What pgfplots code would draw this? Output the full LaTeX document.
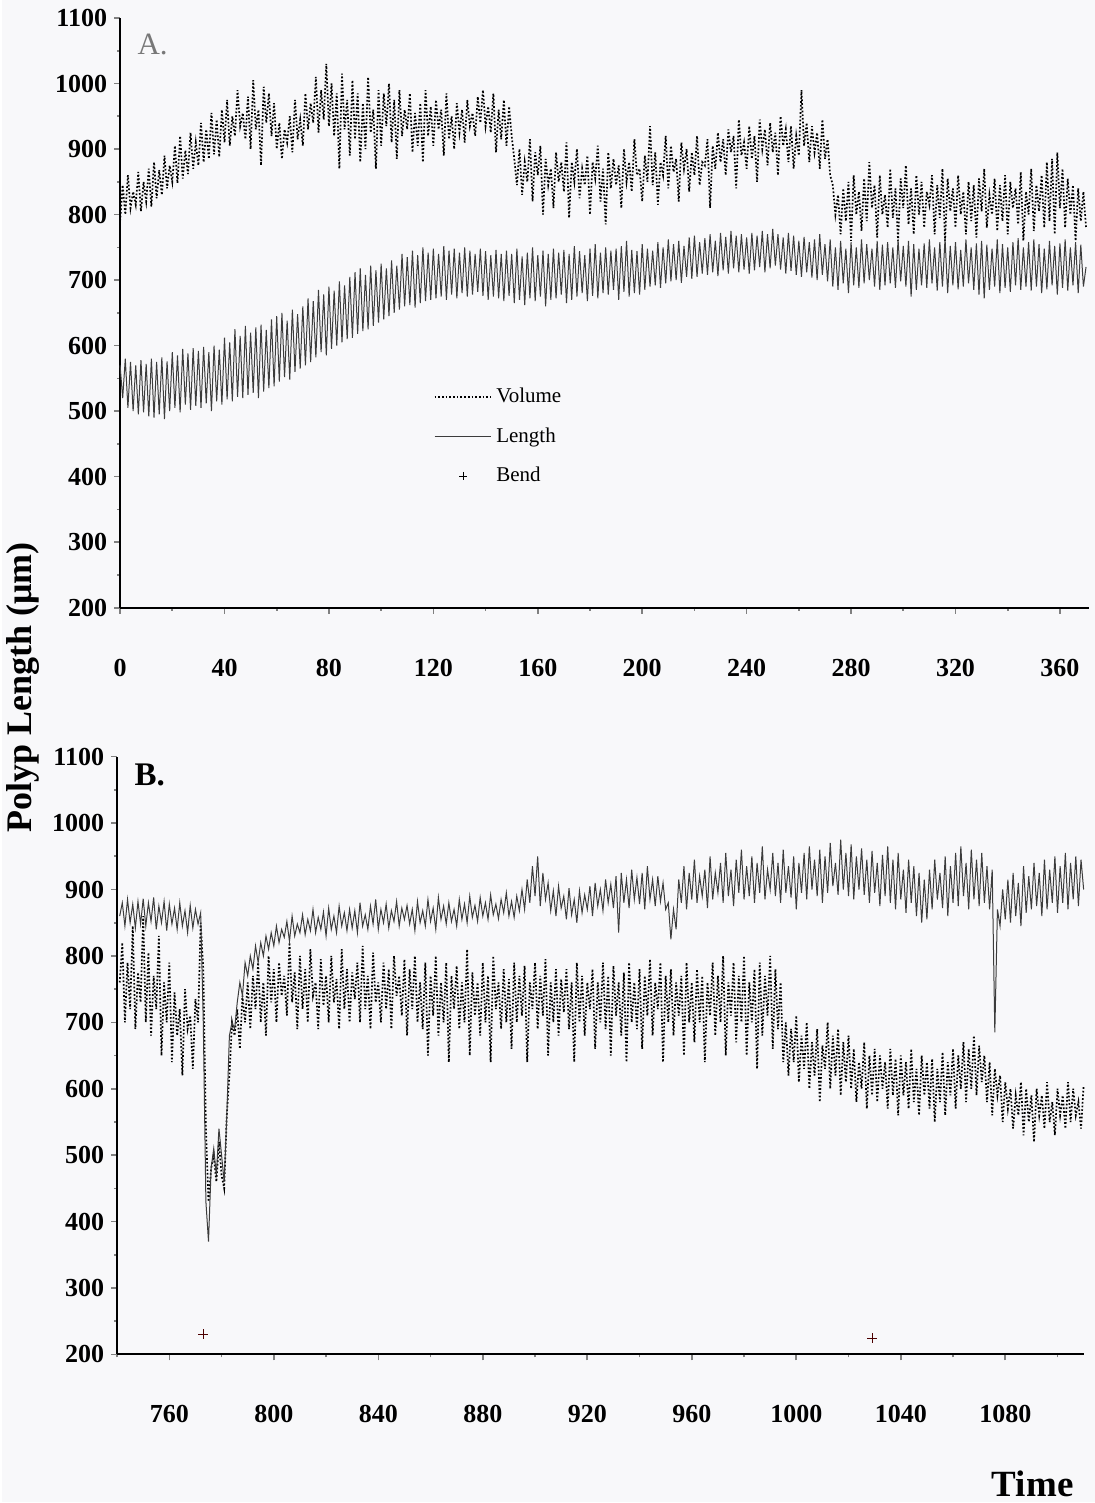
\documentclass[border=0pt]{standalone}
\usepackage{pgfplots}
\usepackage{pgfplotstable}
\pgfplotsset{compat=1.18}
\usepackage{fontspec}
\setmainfont{Liberation Serif}
\definecolor{bgcol}{RGB}{248,248,250}
\definecolor{lencol}{RGB}{60,60,60}
\definecolor{lblA}{RGB}{120,120,120}

% Panel A, time 0..370, one value per time step
\pgfplotstableread[row sep=\\, header=false]{570\\520\\580\\505\\575\\500\\570\\495\\578\\498\\
572\\492\\580\\490\\575\\495\\582\\488\\576\\500\\
590\\505\\585\\498\\595\\510\\588\\502\\596\\508\\
592\\505\\598\\512\\590\\500\\600\\515\\594\\510\\
612\\518\\605\\515\\625\\522\\615\\520\\630\\525\\
620\\528\\628\\520\\632\\530\\624\\535\\640\\538\\
645\\545\\650\\552\\638\\548\\655\\560\\648\\565\\
660\\570\\672\\575\\668\\582\\685\\590\\678\\585\\
690\\595\\684\\600\\698\\605\\692\\610\\705\\612\\
712\\618\\718\\622\\708\\625\\722\\630\\715\\635\\
725\\640\\718\\645\\730\\650\\722\\655\\740\\660\\
735\\662\\745\\658\\738\\665\\750\\668\\742\\670\\
748\\672\\740\\675\\752\\670\\745\\678\\748\\672\\
742\\680\\750\\675\\745\\678\\740\\682\\748\\676\\
744\\670\\738\\675\\746\\672\\740\\668\\745\\676\\
740\\665\\748\\670\\736\\662\\742\\672\\750\\668\\
738\\675\\745\\660\\740\\670\\748\\672\\742\\678\\
746\\665\\740\\670\\752\\675\\744\\680\\738\\668\\
748\\676\\755\\672\\742\\680\\750\\678\\745\\685\\
748\\670\\752\\682\\760\\675\\746\\680\\744\\678\\
755\\685\\748\\690\\745\\692\\758\\688\\750\\695\\
762\\698\\755\\700\\760\\696\\752\\705\\765\\702\\
768\\705\\758\\710\\764\\708\\770\\712\\760\\706\\
772\\715\\766\\710\\775\\718\\768\\712\\770\\716\\
765\\710\\772\\715\\768\\720\\775\\712\\770\\718\\
778\\722\\770\\716\\765\\710\\772\\714\\768\\708\\
760\\705\\766\\712\\758\\704\\762\\700\\770\\708\\
755\\698\\762\\690\\750\\685\\760\\695\\748\\680\\
758\\692\\750\\688\\762\\695\\755\\700\\748\\690\\
760\\685\\754\\692\\758\\695\\750\\688\\762\\698\\
752\\690\\760\\675\\755\\685\\748\\692\\756\\688\\
762\\695\\750\\684\\758\\690\\764\\680\\752\\692\\
758\\686\\746\\690\\762\\695\\750\\685\\756\\678\\
760\\672\\754\\685\\748\\690\\762\\680\\755\\688\\
750\\682\\758\\692\\764\\685\\750\\690\\758\\684\\
762\\690\\755\\680\\748\\686\\760\\692\\752\\678\\
756\\688\\762\\684\\750\\692\\758\\680\\754\\690\\
720\\}\lenA
\pgfplotstableread[row sep=\\, header=false]{790\\845\\800\\860\\810\\835\\815\\865\\805\\850\\
820\\870\\812\\880\\825\\868\\830\\890\\840\\875\\
850\\905\\848\\920\\855\\898\\862\\925\\870\\910\\
875\\940\\880\\930\\885\\955\\892\\945\\888\\960\\
910\\975\\905\\950\\920\\990\\935\\955\\915\\980\\
900\\1005\\930\\960\\875\\995\\940\\985\\920\\970\\
900\\940\\885\\930\\910\\950\\895\\975\\915\\945\\
905\\985\\930\\970\\940\\1010\\925\\990\\945\\1030\\
935\\1000\\920\\985\\870\\1015\\930\\975\\890\\1005\\
915\\985\\880\\970\\900\\1010\\925\\960\\870\\990\\
905\\985\\935\\1000\\910\\975\\885\\990\\920\\960\\
930\\985\\895\\955\\905\\970\\880\\990\\920\\965\\
905\\975\\930\\960\\890\\985\\915\\950\\900\\970\\
925\\960\\910\\975\\935\\955\\920\\980\\940\\990\\
935\\965\\925\\985\\895\\960\\915\\975\\905\\965\\
920\\885\\845\\900\\830\\880\\850\\915\\820\\895\\
860\\905\\800\\885\\845\\870\\810\\895\\850\\880\\
835\\910\\795\\880\\850\\900\\825\\870\\845\\890\\
800\\880\\855\\905\\820\\870\\785\\895\\840\\885\\
845\\875\\810\\900\\850\\880\\835\\915\\860\\870\\
820\\890\\850\\935\\845\\895\\815\\880\\860\\920\\
840\\905\\865\\885\\820\\910\\870\\900\\835\\895\\
860\\920\\845\\880\\875\\915\\810\\905\\870\\925\\
880\\915\\860\\930\\895\\920\\840\\945\\890\\910\\
870\\935\\885\\920\\850\\945\\900\\930\\875\\940\\
895\\925\\860\\950\\905\\930\\880\\935\\870\\920\\
890\\990\\905\\940\\880\\935\\895\\925\\870\\945\\
885\\915\\860\\845\\800\\830\\770\\840\\790\\850\\
760\\860\\800\\835\\775\\855\\790\\880\\810\\845\\
765\\860\\800\\830\\780\\870\\795\\840\\760\\855\\
810\\875\\785\\840\\770\\860\\800\\850\\780\\835\\
815\\860\\770\\845\\795\\870\\760\\855\\805\\840\\
780\\860\\800\\835\\770\\850\\790\\845\\765\\855\\
805\\870\\780\\830\\800\\855\\775\\845\\790\\860\\
770\\850\\810\\840\\785\\865\\760\\835\\800\\870\\
775\\845\\805\\860\\780\\880\\790\\885\\770\\895\\
810\\870\\780\\855\\800\\845\\760\\840\\790\\835\\
780\\}\volA
% Panel B, time 741..1110
\pgfplotstableread[row sep=\\, header=false]{860\\880\\845\\885\\850\\878\\842\\882\\848\\886\\
845\\880\\852\\888\\840\\875\\850\\882\\838\\878\\
848\\872\\840\\880\\845\\868\\835\\876\\842\\870\\
848\\865\\
700\\430\\370\\480\\510\\470\\540\\500\\460\\560\\680\\700\\690\\730\\760\\740\\790\\770\\
800\\780\\815\\790\\820\\800\\830\\810\\835\\815\\
845\\820\\840\\828\\852\\822\\860\\830\\848\\835\\
862\\832\\855\\838\\870\\835\\858\\840\\866\\830\\
872\\840\\860\\835\\875\\845\\865\\838\\870\\842\\
868\\835\\880\\845\\862\\840\\875\\848\\885\\840\\
870\\850\\878\\842\\868\\852\\882\\845\\872\\855\\
876\\848\\870\\838\\882\\850\\868\\845\\885\\852\\
872\\840\\888\\855\\875\\848\\880\\852\\870\\845\\
885\\855\\878\\850\\890\\858\\876\\852\\888\\860\\
880\\855\\892\\862\\878\\856\\885\\865\\895\\860\\
882\\858\\890\\868\\900\\870\\915\\880\\935\\890\\
950\\875\\925\\885\\910\\868\\898\\860\\905\\872\\
890\\855\\902\\862\\885\\850\\898\\865\\892\\870\\
905\\860\\910\\875\\900\\868\\915\\880\\908\\872\\
920\\835\\925\\880\\915\\872\\930\\885\\918\\878\\
925\\870\\935\\885\\915\\875\\920\\882\\910\\870\\
880\\825\\870\\840\\915\\880\\935\\870\\925\\885\\
945\\880\\920\\890\\930\\872\\950\\885\\925\\895\\
940\\880\\955\\890\\930\\875\\945\\895\\960\\885\\
935\\890\\950\\880\\940\\895\\965\\885\\930\\900\\
955\\890\\940\\880\\960\\895\\935\\888\\950\\870\\
940\\895\\955\\885\\965\\900\\945\\890\\960\\880\\
950\\895\\970\\905\\940\\892\\975\\900\\955\\890\\
968\\885\\950\\900\\962\\892\\945\\880\\958\\895\\
940\\875\\952\\890\\965\\880\\945\\870\\955\\885\\
930\\865\\945\\880\\935\\860\\925\\850\\915\\855\\
930\\870\\945\\885\\925\\872\\950\\860\\935\\880\\
955\\875\\965\\890\\940\\870\\960\\885\\945\\875\\
955\\880\\935\\870\\930\\685\\870\\845\\900\\855\\
915\\850\\925\\860\\910\\845\\935\\865\\920\\870\\
940\\875\\925\\860\\945\\870\\930\\880\\950\\865\\
935\\880\\955\\870\\940\\885\\950\\875\\945\\900\\}\lenB
\pgfplotstableread[row sep=\\, header=false]{760\\820\\700\\790\\720\\845\\690\\775\\730\\860\\
700\\805\\680\\770\\720\\830\\650\\760\\700\\790\\
640\\745\\680\\720\\620\\750\\690\\710\\630\\735\\
700\\850\\
780\\540\\430\\480\\500\\460\\520\\470\\450\\560\\620\\700\\680\\720\\660\\740\\700\\760\\
690\\770\\720\\790\\700\\760\\680\\800\\730\\780\\
700\\790\\740\\770\\710\\820\\730\\775\\690\\800\\
720\\780\\700\\810\\740\\760\\690\\795\\725\\770\\
700\\800\\730\\765\\690\\810\\720\\780\\700\\775\\
735\\790\\700\\815\\720\\770\\690\\805\\730\\760\\
700\\790\\720\\780\\690\\800\\740\\770\\710\\795\\
680\\780\\720\\800\\700\\760\\690\\790\\650\\770\\
710\\800\\680\\760\\700\\790\\640\\770\\720\\785\\
690\\760\\700\\810\\650\\775\\710\\760\\680\\790\\
700\\770\\640\\800\\720\\760\\690\\780\\700\\765\\
660\\790\\700\\770\\710\\785\\640\\760\\720\\790\\
690\\770\\710\\795\\650\\760\\700\\780\\680\\765\\
715\\780\\690\\760\\640\\790\\700\\770\\680\\760\\
720\\780\\660\\760\\700\\790\\690\\770\\650\\785\\
710\\760\\680\\775\\640\\790\\700\\760\\690\\780\\
660\\770\\710\\795\\680\\760\\720\\790\\640\\770\\
700\\780\\680\\760\\710\\770\\650\\790\\700\\760\\
670\\780\\700\\770\\640\\760\\710\\790\\680\\770\\
700\\800\\650\\760\\710\\790\\670\\770\\700\\800\\
650\\760\\700\\780\\630\\790\\680\\770\\710\\800\\
660\\780\\690\\760\\640\\700\\620\\690\\640\\710\\
610\\680\\630\\700\\600\\670\\620\\690\\580\\665\\
630\\700\\600\\680\\620\\690\\590\\670\\610\\680\\
600\\660\\580\\640\\600\\670\\570\\650\\590\\660\\
580\\650\\600\\640\\570\\660\\590\\645\\560\\650\\
590\\640\\570\\660\\580\\630\\560\\650\\590\\640\\
570\\645\\550\\630\\580\\655\\560\\640\\590\\660\\
570\\650\\600\\670\\580\\660\\600\\680\\590\\665\\
610\\650\\580\\640\\560\\630\\590\\620\\550\\610\\
570\\600\\540\\590\\560\\610\\530\\600\\550\\590\\
520\\600\\560\\590\\540\\610\\550\\580\\530\\600\\
560\\590\\540\\610\\550\\600\\560\\580\\540\\605\\}\volB

\pgfplotsset{
  panel/.style={
    scale only axis,
    anchor=north west,
    axis x line*=bottom,
    axis y line*=left,
    axis line style={-, line width=0.9pt},
    ymin=200, ymax=1100,
    ytick={200,300,...,1100},
    minor ytick={250,350,...,1050},
    tick align=outside,
    major tick length=3pt,
    minor tick length=1.5pt,
    x tick style={line width=0.8pt},
    y tick style={line width=0.8pt},
    ticklabel style={font=\fontsize{13}{15}\selectfont\bfseries},
    /pgf/number format/assume math mode=true,
    /pgf/number format/1000 sep={},
    xticklabel style={anchor=center, yshift=-27pt},
    clip=false,
    legend image code/.code={\draw[mark repeat=2,mark phase=2,##1] plot coordinates {(0cm,0cm) (0.5cm,0cm) (1cm,0cm)};},
  },
  vol/.style={black, densely dotted, line width=0.85pt},
  len/.style={lencol, line width=0.5pt},
}

\begin{document}
\begin{tikzpicture}
\fill[bgcol] (0,0) rectangle (546.5pt,-751.5pt);

\begin{axis}[panel, at={(59pt,-9pt)}, width=484.5pt, height=295pt,
  xmin=0, xmax=371,
  xtick={0,40,...,360},
  minor xtick={20,60,...,340},
  legend style={at={(axis cs:120,542)}, anchor=north west, draw=none, fill=none,
    inner sep=0pt, row sep=7pt, cells={anchor=west},
    font=\fontsize{10.5}{12}\selectfont},
]
\addplot[vol] table[x expr=\coordindex, y index=0] {\volA};
\addlegendentry{Volume}
\addplot[len] table[x expr=\coordindex, y index=0] {\lenA};
\addlegendentry{Length}
\addlegendimage{only marks, mark=+, mark size=2pt, black}
\addlegendentry{Bend}
\node[anchor=west, text=lblA, font=\fontsize{15.5}{17}\selectfont] at (axis cs:4,1060) {A.};
\end{axis}

\begin{axis}[panel, at={(57.5pt,-378.5pt)}, width=483.5pt, height=299pt,
  xmin=740, xmax=1110,
  xtick={760,800,...,1080},
  minor xtick={740,780,...,1100},
]
\addplot[vol] table[x expr=\coordindex+741, y index=0] {\volB};
\addplot[len] table[x expr=\coordindex+741, y index=0] {\lenB};
\addplot[only marks, mark=+, mark size=2.5pt, color=black!70!red] coordinates {(773,230) (1029,224)};
\node[anchor=west, font=\fontsize{16.5}{18}\selectfont\bfseries] at (axis cs:744,1073) {B.};
\end{axis}

\node[rotate=90, font=\fontsize{18}{20}\selectfont\bfseries] at (10.5pt,-344pt) {Polyp Length (μm)};
\node[font=\fontsize{18.5}{20}\selectfont\bfseries] at (515.5pt,-742pt) {Time};
\end{tikzpicture}
\end{document}
